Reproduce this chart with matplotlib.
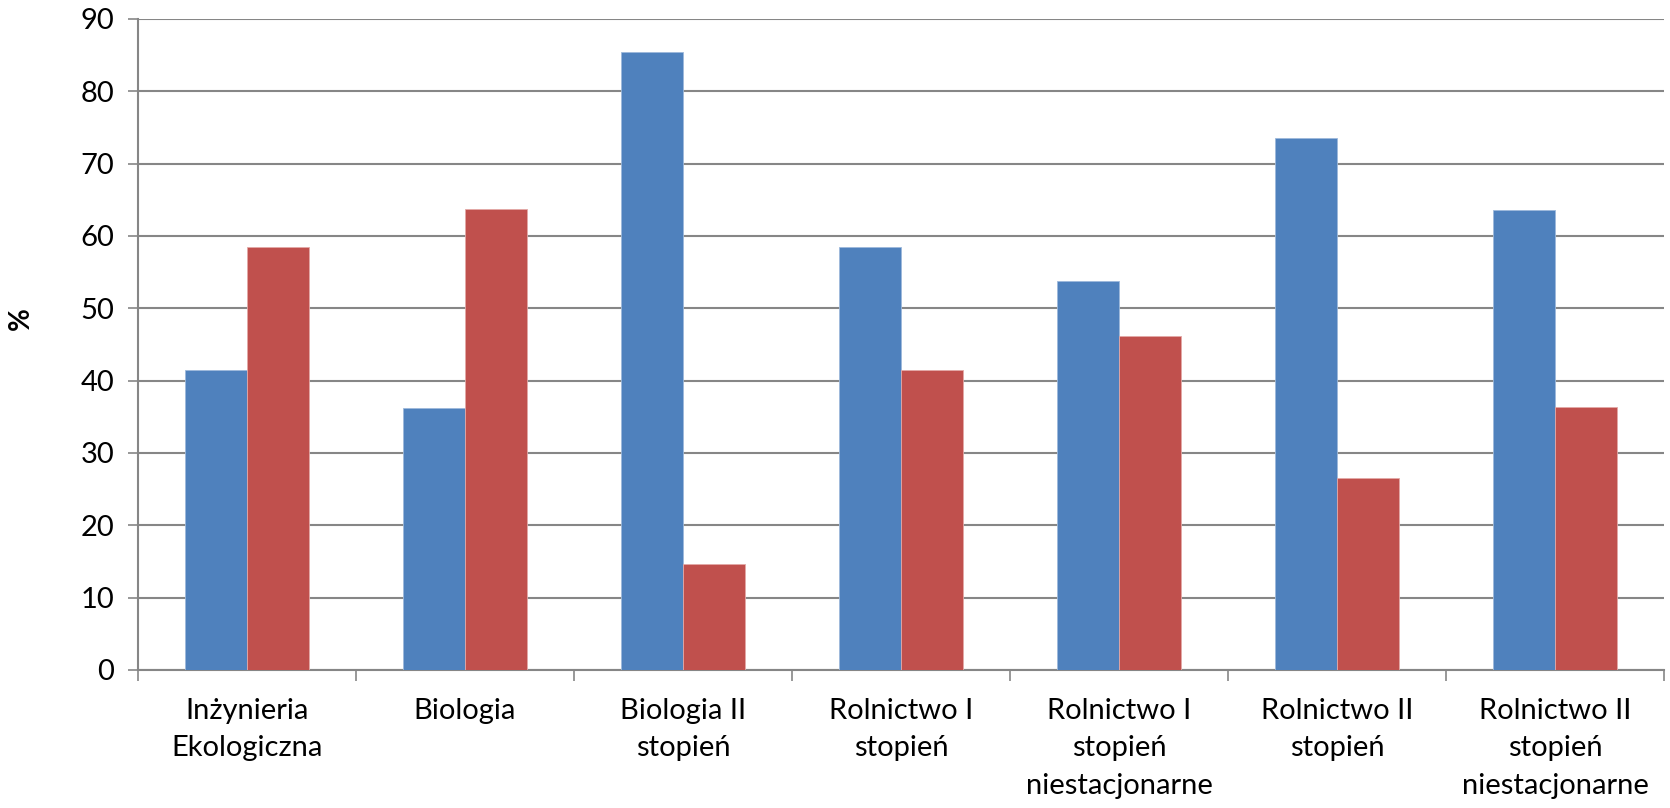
import numpy as np
import matplotlib.pyplot as plt
from matplotlib.ticker import FixedLocator, NullFormatter

# data
categories = ["Inżynieria\nEkologiczna", "Biologia", "Biologia II\nstopień", "Rolnictwo I\nstopień",
              "Rolnictwo I\nstopień\nniestacjonarne", "Rolnictwo II\nstopień", "Rolnictwo II\nstopień\nniestacjonarne"]
series_blue = [41.5, 36.2, 85.4, 58.5, 53.8, 73.5, 63.6]
series_red = [58.5, 63.8, 14.6, 41.5, 46.2, 26.5, 36.4]
y_ticks = [0, 10, 20, 30, 40, 50, 60, 70, 80, 90]

plt.rcParams['font.family'] = ['Lato', 'DejaVu Sans']

fig = plt.figure(figsize=(16.7, 8.08), dpi=100)
ax = fig.add_axes([0.0826, 0.1708, 0.9138, 0.8057])

x = np.arange(len(categories))
width = 1 / 3.5
ax.bar(x - width / 2, series_blue, width, color='#4F81BD', edgecolor='#9DB9DB', linewidth=0.6, zorder=3)
ax.bar(x + width / 2, series_red, width, color='#C0504D', edgecolor='#E3A9A7', linewidth=0.6, zorder=3)

ax.set_xlim(-0.5, len(categories) - 0.5)
ax.set_ylim(0, 90)
ax.set_yticks(y_ticks)
ax.yaxis.grid(True, color='#868686', linewidth=1.5, zorder=0)
ax.tick_params(axis='y', labelsize=21, length=7, width=1.2, color='#868686', pad=10)

# category boundaries as ticks, labels in the middle
ax.xaxis.set_major_locator(FixedLocator(np.arange(-0.5, len(categories), 1.0)))
ax.xaxis.set_major_formatter(NullFormatter())
ax.xaxis.set_minor_locator(FixedLocator(x))
ax.set_xticklabels(categories, minor=True)
ax.tick_params(axis='x', which='major', length=8, width=1.2, color='#868686')
ax.tick_params(axis='x', which='minor', length=0, labelsize=21, pad=20)
for lab in ax.get_xticklabels(minor=True):
    lab.set_linespacing(1.55)

for side in ['top', 'right']:
    ax.spines[side].set_visible(False)
for side in ['left', 'bottom']:
    ax.spines[side].set_color('#868686')
    ax.spines[side].set_linewidth(1.5)

ax.set_ylabel('%', fontsize=20, fontweight='bold', labelpad=28)
ax.yaxis.set_label_coords(-0.068, 0.54)

fig.savefig('out.png', dpi=100)
